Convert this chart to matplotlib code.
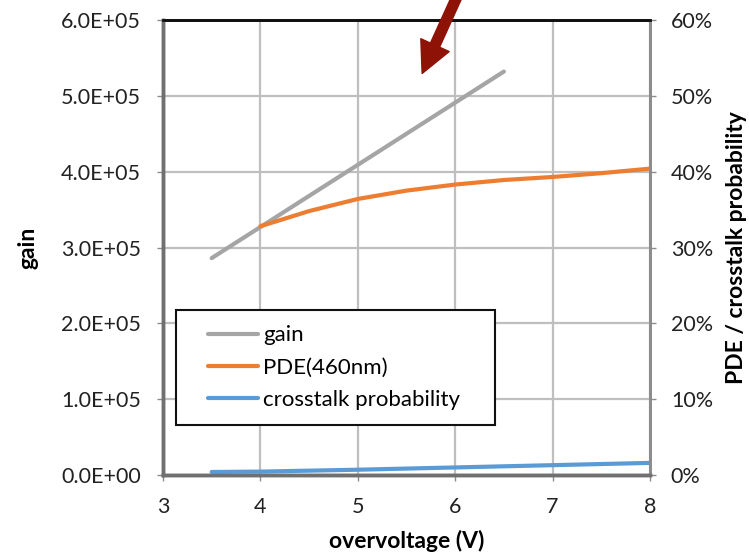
import matplotlib.pyplot as plt
from matplotlib.patches import FancyArrowPatch
from matplotlib.legend_handler import HandlerLine2D
from matplotlib.ticker import FuncFormatter

# data
gain_v = [3.5, 4.0, 4.5, 5.0, 5.5, 6.0, 6.5]
gain = [2.86e5, 3.27e5, 3.68e5, 4.09e5, 4.50e5, 4.91e5, 5.32e5]

pde_v = [4.0, 4.5, 5.0, 5.5, 6.0, 6.5, 7.0, 7.5, 8.0]
pde = [0.328, 0.348, 0.364, 0.375, 0.383, 0.389, 0.393, 0.398, 0.404]

xt_v = [3.5, 4.0, 5.0, 6.0, 7.0, 8.0]
xt = [0.004, 0.0045, 0.007, 0.010, 0.013, 0.016]

x_ticks = [3, 4, 5, 6, 7, 8]
gain_ticks = [0, 1e5, 2e5, 3e5, 4e5, 5e5, 6e5]
pct_ticks = [0, 0.1, 0.2, 0.3, 0.4, 0.5, 0.6]

plt.rcParams['font.family'] = ['Lato', 'DejaVu Sans']

fig = plt.figure(figsize=(7.49, 5.58), dpi=100)
ax = fig.add_axes([0.2176, 0.1487, 0.6502, 0.8155])
ax2 = ax.twinx()

ax.set_xlim(3, 8)
ax.set_ylim(0, 6e5)
ax2.set_ylim(0, 0.6)
ax.set_xticks(x_ticks)
ax.set_yticks(gain_ticks)
ax2.set_yticks(pct_ticks)
ax.grid(True, color='#BFBFBF', linewidth=1.6)
ax.set_axisbelow(True)

ax.yaxis.set_major_formatter(FuncFormatter(lambda v, p: f"{v:.1E}"))
ax2.yaxis.set_major_formatter(FuncFormatter(lambda v, p: f"{v*100:.0f}%"))

l1, = ax.plot(gain_v, gain, color='#A5A5A5', lw=3, solid_capstyle='round', label='gain')
l2, = ax2.plot(pde_v, pde, color='#ED7D31', lw=3, solid_capstyle='round', label='PDE(460nm)')
l3, = ax2.plot(xt_v, xt, color='#5B9BD5', lw=3, solid_capstyle='round', label='crosstalk probability')

for a in (ax, ax2):
    a.spines['left'].set_color('#707070')
    a.spines['left'].set_linewidth(2.5)
    a.spines['bottom'].set_color('#707070')
    a.spines['bottom'].set_linewidth(2.5)
    a.spines['right'].set_color('#8C8C8C')
    a.spines['right'].set_linewidth(2)
    a.spines['top'].set_color('#111111')
    a.spines['top'].set_linewidth(2)
    a.tick_params(labelsize=15.5, colors='#222222', length=4, width=1)
    a.tick_params(axis='both', color='#8C8C8C')
ax.tick_params(axis='x', pad=12)
ax.tick_params(axis='y', pad=12)
ax2.tick_params(axis='y', pad=11)

ax.set_xlabel('overvoltage (V)', fontsize=16.5, fontweight='bold', labelpad=9)
ax.set_ylabel('gain', fontsize=16.5, fontweight='bold', labelpad=16)
ax2.set_ylabel('PDE / crosstalk probability', fontsize=16.5, fontweight='bold', labelpad=9)

hmap = {h: HandlerLine2D(xpad=0.75) for h in (l1, l2, l3)}
leg = ax2.legend(handles=[l1, l2, l3], loc='upper left', mode='expand',
                 bbox_to_anchor=(0.027, 0.0, 0.655, 0.363), fontsize=16,
                 frameon=True, fancybox=False, edgecolor='#111111', framealpha=1,
                 handlelength=3.0, handletextpad=0.2, borderpad=0.7,
                 labelspacing=0.55, borderaxespad=0, handler_map=hmap)
leg.get_frame().set_linewidth(1.5)

# dark red arrow at top
fig.patches.append(FancyArrowPatch(
    (458 / 749, 1.01), (421 / 749, 1 - 76 / 558), transform=fig.transFigure,
    arrowstyle='simple,head_width=1.4,head_length=1.4,tail_width=0.45',
    mutation_scale=16, color='#8E1205', clip_on=False))

fig.savefig('out.png', dpi=100)
